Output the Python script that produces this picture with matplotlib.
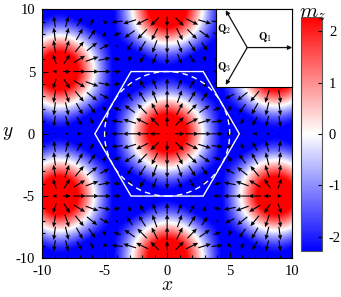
import numpy as np
import matplotlib
matplotlib.use("Agg")
from matplotlib import pyplot as plt
from matplotlib.patches import Polygon, Circle

plt.rcParams['font.family'] = ['Liberation Serif', 'DejaVu Serif']
plt.rcParams['mathtext.fontset'] = 'cm'
plt.rcParams['axes.unicode_minus'] = False

# triple-Q skyrmion lattice parameters
lattice_const = 10.0          # distance between skyrmion centres
q_angles_deg = [0, 120, 240]  # directions of Q1, Q2, Q3
q_labels = [r'$\mathbf{Q}_1$', r'$\mathbf{Q}_2$', r'$\mathbf{Q}_3$']
mz_offset = -0.6
mz_gain = 1.45
inplane_gain = 2.0
mz_lim = 2.27

xy_ticks = [-10, -5, 0, 5, 10]
cbar_ticks = [-2, -1, 0, 1, 2]
arrow_grid = np.arange(-9, 10)

q = 4 * np.pi / (np.sqrt(3) * lattice_const)
qvecs = [(q * np.cos(np.radians(a)), q * np.sin(np.radians(a))) for a in q_angles_deg]


def field(x, y, offset=mz_offset):
    mz = np.zeros_like(x) + offset
    mx = np.zeros_like(x)
    my = np.zeros_like(x)
    for (qx, qy) in qvecs:
        ph = qx * x + qy * y
        mz += np.cos(ph)
        mx += qx / q * np.sin(ph)
        my += qy / q * np.sin(ph)
    return mx, my, mz


fig = plt.figure(figsize=(3.41, 2.97), dpi=100)
ax = fig.add_axes([0.1232, 0.1303, 0.7338, 0.8384])

g = np.linspace(-10, 10, 400)
X, Y = np.meshgrid(g, g)
_, _, MZ = field(X, Y)
im = ax.imshow(MZ * mz_gain, extent=[-10, 10, -10, 10], origin='lower', cmap='bwr',
               vmin=-mz_lim, vmax=mz_lim, interpolation='bilinear', aspect='auto')

# in-plane part of the normalised spin
AX, AY = np.meshgrid(arrow_grid.astype(float), arrow_grid.astype(float))
U, V, W = field(AX, AY, offset=-0.75)
norm = np.sqrt((inplane_gain * U) ** 2 + (inplane_gain * V) ** 2 + W ** 2)
U = inplane_gain * U / norm
V = inplane_gain * V / norm
ax.quiver(AX, AY, U, V, pivot='mid', scale_units='xy', scale=0.92,
          width=0.0045, headwidth=4, headlength=4.5, headaxislength=4, color='k')

# Wigner-Seitz cell and inscribed circle
r_in = lattice_const / 2
r_out = r_in / np.cos(np.pi / 6)
ang = np.radians(np.arange(0, 360, 60))
ax.add_patch(Polygon(np.c_[r_out * np.cos(ang), r_out * np.sin(ang)], closed=True,
                     fill=False, ec='white', lw=1.0))
ax.add_patch(Circle((0, 0), r_in, fill=False, ec='white', lw=1.0, ls=(0, (4, 3))))

ax.set_xlim(-10, 10)
ax.set_ylim(-10, 10)
ax.set_xticks(xy_ticks)
ax.set_yticks(xy_ticks)
ax.set_xticks(np.arange(-10, 11), minor=True)
ax.set_yticks(np.arange(-10, 11), minor=True)
ax.tick_params(which='both', direction='in', labelsize=10.5, width=0.8, pad=5)
ax.tick_params(which='major', length=4)
ax.tick_params(which='minor', length=2)
ax.set_xlabel(r'$x$', fontsize=14, labelpad=-1)
ax.set_ylabel(r'$y$', fontsize=14, rotation=0, labelpad=6, va='center')

# inset with Q vectors
ins = fig.add_axes([0.6334, 0.706, 0.2229, 0.2637])
ins.set_xlim(0, 76)
ins.set_ylim(0, 78)
ins.set_xticks([])
ins.set_yticks([])
ins.set_facecolor('white')
c0 = (31.2, 39.6)
lens = [45, 43, 43]
for a, L in zip(q_angles_deg, lens):
    end = (c0[0] + L * np.cos(np.radians(a)), c0[1] + L * np.sin(np.radians(a)))
    ins.annotate('', xy=end, xytext=c0,
                 arrowprops=dict(arrowstyle='-|>', lw=0.9, color='#111111',
                                 mutation_scale=6, shrinkA=0, shrinkB=0))
ins.text(49, 43, q_labels[0], fontsize=8, ha='center', va='bottom')
ins.text(8, 58, q_labels[1], fontsize=8, ha='center', va='center')
ins.text(8, 20, q_labels[2], fontsize=8, ha='center', va='center')

# colour bar
cax = fig.add_axes([0.8827, 0.1559, 0.0616, 0.7859])
cb = fig.colorbar(im, cax=cax, ticks=cbar_ticks)
cb.ax.tick_params(direction='in', length=3, labelsize=10.5, width=0.8, pad=5)
cb.outline.set_linewidth(0.8)
cb.outline.set_edgecolor('#555555')
fig.text(0.918, 0.955, r'$m_z$', fontsize=15, ha='center', va='center')

fig.savefig('out.png', dpi=100)
